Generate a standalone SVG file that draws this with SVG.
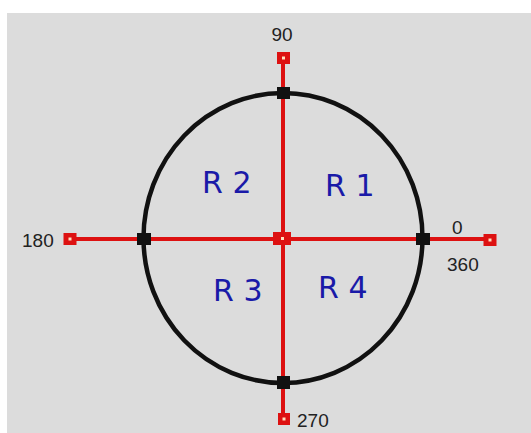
<svg xmlns="http://www.w3.org/2000/svg" width="531" height="433" viewBox="0 0 531 433">
<style>
.num{font-family:"Liberation Sans",Arial,sans-serif;font-size:19px;fill:#222}
.reg{font-family:"DejaVu Sans",Verdana,sans-serif;font-size:30px;fill:#1a1aa8}
.axis{stroke:#dd1111;stroke-width:4;fill:none}
.end{fill:#dd1111}
.dot{fill:#ffe0c0}
.tick{fill:#111}
</style>
<rect x="0" y="0" width="531" height="433" fill="#ffffff"/>
<rect x="7" y="13" width="524" height="420" fill="#dcdcdc"/>
<g id="circle">
<ellipse cx="283" cy="238" rx="139.5" ry="145" fill="none" stroke="#111" stroke-width="4.5"/>
</g>
<g id="connectors">
<line class="axis" x1="283" y1="58" x2="283" y2="419"/>
<line class="axis" x1="70" y1="239" x2="490" y2="239"/>
</g>
<g id="ticks">
<rect class="tick" x="277" y="87" width="13" height="12"/>
<rect class="tick" x="277" y="376" width="13" height="13"/>
<rect class="tick" x="137" y="233" width="14" height="12"/>
<rect class="tick" x="416" y="233" width="14" height="12"/>
</g>
<g id="node-center">
<rect class="end" x="273" y="232" width="18" height="13"/>
<rect class="dot" x="281" y="237" width="3" height="3"/>
</g>
<g id="node-90">
<rect class="end" x="277" y="52" width="13" height="12"/>
<rect class="dot" x="282" y="56.5" width="3" height="3"/>
<text class="num" x="282" y="41" text-anchor="middle">90</text>
</g>
<g id="node-180">
<rect class="end" x="63.5" y="233" width="13" height="12"/>
<rect class="dot" x="68.5" y="237.5" width="3" height="3"/>
<text class="num" x="22" y="247">180</text>
</g>
<g id="node-0">
<rect class="end" x="483.5" y="234" width="13" height="12"/>
<rect class="dot" x="488.5" y="238.5" width="3" height="3"/>
<text class="num" x="452" y="234">0</text>
<text class="num" x="447" y="271">360</text>
</g>
<g id="node-270">
<rect class="end" x="278" y="413" width="12" height="12"/>
<rect class="dot" x="282.5" y="417.5" width="3" height="3"/>
<text class="num" x="297" y="427">270</text>
</g>
<g id="regions">
<text class="reg" x="202" y="193">R 2</text>
<text class="reg" x="325" y="196">R 1</text>
<text class="reg" x="213" y="301">R 3</text>
<text class="reg" x="318" y="298">R 4</text>
</g>
</svg>
